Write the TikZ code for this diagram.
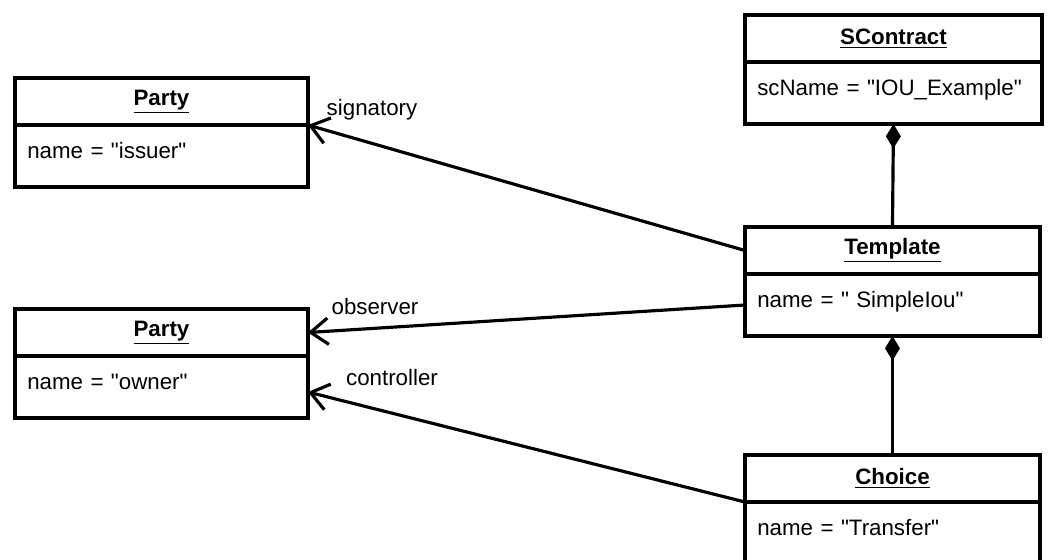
\documentclass[tikz,border=0pt]{standalone}
\usepackage{fontspec}
\newfontfamily\umlfont{Liberation Sans}
\usetikzlibrary{positioning,arrows.meta,calc}

\tikzset{
    objtitle/.style={draw, line width=2.3pt, outer sep=0pt, anchor=north west, minimum width=#1, minimum height=47*0.02cm, inner sep=0pt, font=\umlfont\fontsize{12.7}{15}\selectfont\bfseries},
    objattr/.style={draw, line width=2.3pt, outer sep=0pt, minimum width=#1, minimum height=62*0.02cm, text width=#1-14pt, align=left, text depth=6pt, inner sep=4pt, font=\umlfont\fontsize{12.7}{15}\selectfont},
    assoc/.style={line width=1.8pt, -{Straight Barb[length=10pt, width=15pt, line width=1.8pt]}},
    compose/.style={line width=1.8pt, {Diamond[length=14pt, width=8.5pt]}-},
    rolelbl/.style={font=\umlfont\fontsize{12.7}{15}\selectfont, inner sep=0pt}
}

\begin{document}
\begin{tikzpicture}[x=0.02cm, y=-0.02cm]
    \useasboundingbox (0,0) rectangle (1048,559);

    % Objects on the left
    \node[objtitle=5.86cm] (p1) at (15,78) {\underline{Party}};
    \node[objattr=5.86cm, below=0pt of p1] (p1a) {name = "issuer"};
    \node[objtitle=5.86cm] (p2) at (15,309) {\underline{Party}};
    \node[objattr=5.86cm, below=0pt of p2] (p2a) {name = "owner"};

    % Objects on the right
    \node[objtitle=5.94cm] (sc) at (745,15) {\underline{SContract}};
    \node[objattr=5.94cm, below=0pt of sc] (sca) {scName = "IOU\_Example"};
    \node[objtitle=5.9cm] (tpl) at (745,227) {\underline{Template}};
    \node[objattr=5.9cm, below=0pt of tpl] (tpla) {name = " SimpleIou"};
    \node[objtitle=5.9cm] (ch) at (745,455) {\underline{Choice}};
    \node[objattr=5.9cm, below=0pt of ch] (cha) {name = "Transfer"};

    % Composition
    \draw[compose] (sca.south) -- (tpl.north);
    \draw[compose] (tpla.south) -- (ch.north);

    % Associations
    \draw[assoc] (tpl.west) -- (p1.south east);
    \draw[assoc] (tpla.west) -- (p2.east);
    \draw[assoc] (ch.south west) -- ($(p2a.east)+(0,5)$);

    % Role names
    \node[rolelbl] (lsig) at (372,110) {signatory};
    \node[rolelbl] (lobs) at (375,307) {observer};
    \node[rolelbl] (lctl) at (392,378) {controller};
\end{tikzpicture}
\end{document}
